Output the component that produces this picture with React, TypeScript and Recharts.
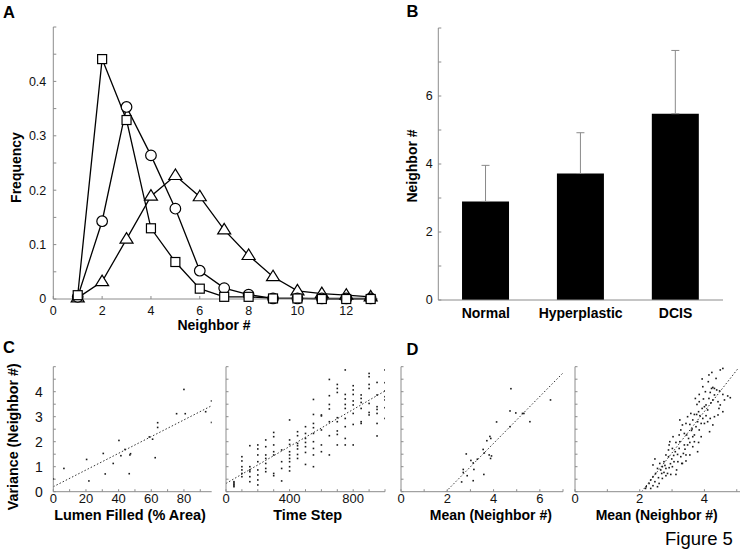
import React from 'react';
import {
  LineChart, Line, BarChart, Bar, ErrorBar, ScatterChart, Scatter,
  XAxis, YAxis, ReferenceLine,
} from 'recharts';

// ---------- Panel A data ----------
const A_NEIGHBORS = [1, 2, 3, 4, 5, 6, 7, 8, 9, 10, 11, 12, 13];
const A_SQUARE = [0.007, 0.441, 0.329, 0.13, 0.068, 0.019, 0.004, 0.004, 0.001, 0.001, 0, 0, 0];
const A_CIRCLE = [0.004, 0.143, 0.353, 0.264, 0.166, 0.052, 0.02, 0.008, 0.001, 0.001, 0.001, 0.001, 0.001];
const A_TRIANGLE = [0.002, 0.032, 0.11, 0.189, 0.227, 0.188, 0.127, 0.08, 0.041, 0.015, 0.01, 0.007, 0.004];
const A_X_TICKS = [0, 2, 4, 6, 8, 10, 12];
const A_Y_TICKS = [0, 0.05, 0.1, 0.15, 0.2, 0.25, 0.3, 0.35, 0.4, 0.45, 0.5];
const A_Y_LABELS = [0, 0.1, 0.2, 0.3, 0.4];

// ---------- Panel B data ----------
const B_CATEGORIES = ['Normal', 'Hyperplastic', 'DCIS'];
const B_MEANS = [2.9, 3.72, 5.48];
const B_ERRORS = [1.06, 1.2, 1.86];
const B_Y_TICKS = [0, 1, 2, 3, 4, 5, 6, 7, 8];
const B_Y_LABELS = [0, 2, 4, 6];

// ---------- Panel C data ----------
const C_LEFT_POINTS: [number, number][] = [
  [0, 0.51], [6.5, 0.93], [20.4, 1.29], [21.8, 0.43], [30.6, 1.53], [31.8, 0.71],
  [36.7, 1.13], [40.2, 2.05], [41.4, 1.44], [43.9, 1.69], [46.9, 1.47], [47.3, 1.52],
  [46.5, 0.72], [58.8, 2.19], [60.8, 2.1], [62.4, 1.36], [63.9, 2.76], [63.9, 2.57],
  [75.5, 3.12], [80, 4.09], [80.8, 3.12], [93.3, 3.2], [96.9, 3.63], [96.9, 2.77],
];
const C_LEFT_FIT: [number, number][] = [[0, 0.2], [97, 3.44]];

const C_RIGHT_POINTS: [number, number][] = [
  [50, 0.2], [50, 0.25], [50, 0.3], [50, 0.35], [50, 0.4],
  [100, 1.4], [100, 1.23], [100, 1.0], [100, 0.87], [100, 0.73], [100, 0.6],
  [150, 1.84], [150, 1.0], [150, 0.87], [150, 0.8], [150, 0.6], [150, 0.4],
  [200, 1.87], [200, 1.71], [200, 1.47], [200, 1.2], [200, 0.87], [200, 0.67], [200, 0.47], [200, 0.27],
  [250, 2.07], [250, 1.8], [250, 1.47], [250, 1.33], [250, 1.13], [250, 0.93], [250, 0.8],
  [300, 2.37], [300, 2.2], [300, 1.87], [300, 1.6], [300, 1.47], [300, 0.73], [300, 0.64],
  [350, 1.67], [350, 1.2], [350, 0.93], [350, 0.43],
  [400, 2.87], [400, 2.07], [400, 1.89], [400, 1.6], [400, 1.47], [400, 1.33], [400, 1.2], [400, 1.0], [400, 0.83],
  [450, 2.4], [450, 2.24], [450, 1.93], [450, 1.84], [450, 1.71], [450, 1.49], [450, 1.33],
  [500, 2.6], [500, 2.33], [500, 2.13], [500, 1.97], [500, 1.8], [500, 1.57], [500, 1.09],
  [550, 3.69], [550, 3.09], [550, 2.73], [550, 2.56], [550, 2.33], [550, 2.0], [550, 1.73], [550, 1.47], [550, 1.0],
  [600, 3.07], [600, 3.03], [600, 2.47], [600, 1.87], [600, 1.6],
  [650, 4.49], [650, 3.84], [650, 3.49], [650, 3.31], [650, 2.8], [650, 2.24], [650, 1.47],
  [700, 4.29], [700, 4.13], [700, 3.97], [700, 2.96], [700, 2.8], [700, 2.43], [700, 2.29], [700, 1.87],
  [750, 4.87], [750, 3.89], [750, 3.71], [750, 3.49], [750, 3.33], [750, 2.93], [750, 2.6], [750, 2.13], [750, 1.87],
  [800, 4.24], [800, 4.07], [800, 3.89], [800, 3.63], [800, 3.47], [800, 3.13], [800, 2.69], [800, 1.87],
  [850, 3.87], [850, 3.73], [850, 3.57], [850, 3.33], [850, 2.8], [850, 2.73],
  [900, 4.73], [900, 4.6], [900, 4.29], [900, 4.13], [900, 3.53], [900, 3.17], [900, 3.07],
  [950, 4.37], [950, 3.87], [950, 3.4], [950, 3.29], [950, 3.13], [950, 2.73], [950, 2.23],
  [1000, 4.87], [1000, 4.36], [1000, 4.03], [1000, 3.8], [1000, 3.67], [1000, 3.36], [1000, 2.93],
];
const C_RIGHT_FIT: [number, number][] = [[0, 0.33], [1000, 4.03]];

// ---------- Panel D data ----------
const D_LEFT_POINTS: [number, number][] = [
  [2.82, 1.51], [3.02, 1.25], [2.69, 0.89], [2.69, 0.77], [2.86, 0.64], [2.62, 0.39],
  [3.12, 1.15], [3.15, 0.89], [3.12, 0.44], [3.58, 0.69], [3.55, 1.69], [3.71, 2.04],
  [3.84, 2.21], [3.88, 2.13], [3.81, 1.47], [3.87, 1.33], [3.91, 1.43], [4.13, 2.79],
  [4.71, 3.23], [4.75, 4.12], [4.71, 2.6], [4.96, 3.15], [5.25, 3.13], [5.31, 3.13],
  [5.57, 2.8], [6.46, 3.67], [3.3, 1.3], [3.6, 1.55],
];
const D_LEFT_FIT: [number, number][] = [[1.94, 0], [7, 4.75]];

const D_RIGHT_POINTS: [number, number][] = [
  [4.57, 4.93], [4.49, 4.87], [4.23, 4.77], [3.93, 4.51], [4.12, 4.4], [4.26, 4.17], [4.31, 4.13],
  [4.22, 4.13], [4.38, 4.07], [4.47, 4.03], [4.03, 4.0], [4.18, 3.97], [4.31, 3.87], [4.57, 3.89],
  [4.72, 3.83], [4.8, 3.76], [3.84, 3.89], [3.72, 3.73], [3.97, 3.71], [4.14, 3.73], [4.26, 3.67],
  [4.42, 3.6], [4.49, 3.47], [4.05, 3.47], [3.93, 3.33], [3.82, 3.2], [3.58, 3.13], [3.69, 3.09],
  [3.76, 3.09], [3.86, 3.04], [3.95, 2.93], [4.05, 3.04], [4.18, 2.93], [4.31, 3.0], [4.42, 3.07],
  [4.57, 3.2], [3.64, 2.87], [3.79, 2.8], [3.9, 2.73], [4.0, 2.73], [4.1, 2.8], [4.26, 2.67],
  [3.24, 2.87], [3.43, 2.73], [3.55, 2.69], [3.62, 2.51], [3.74, 2.6], [3.84, 2.47], [4.16, 2.4],
  [3.27, 2.47], [3.38, 2.33], [3.45, 2.27], [3.51, 2.13], [3.64, 2.2], [3.69, 2.0], [3.82, 1.97],
  [3.22, 2.27], [3.03, 2.2], [3.12, 1.97], [3.24, 2.0], [3.38, 1.87], [3.48, 1.87], [3.64, 1.8],
  [3.79, 1.6], [2.91, 1.87], [3.01, 1.73], [3.1, 1.6], [3.17, 1.49], [3.27, 1.4], [3.35, 1.53],
  [3.43, 1.47], [3.55, 1.47], [2.81, 1.47], [2.89, 1.4], [2.99, 1.31], [3.06, 1.2], [3.18, 1.2],
  [3.3, 1.13], [3.43, 1.23], [2.75, 1.2], [2.62, 1.13], [2.7, 1.0], [2.81, 0.93], [2.91, 0.96],
  [3.01, 1.0], [3.14, 0.87], [2.55, 0.93], [2.65, 0.87], [2.75, 0.77], [2.86, 0.73], [2.96, 0.69],
  [2.49, 0.73], [2.41, 0.6], [2.58, 0.56], [2.7, 0.53], [2.81, 0.64], [2.34, 0.47], [2.47, 0.4],
  [2.6, 0.33], [2.29, 0.33], [2.2, 0.2], [2.41, 0.24], [2.55, 0.2], [2.18, 0.13], [2.34, 0.13],
  [2.93, 2.0], [2.47, 1.31], [2.41, 1.07], [2.89, 1.67], [3.32, 2.67], [3.48, 3.0], [3.77, 3.49],
  [3.95, 4.2], [4.36, 4.53], [4.14, 4.67], [3.84, 3.6], [4.1, 3.27], [4.45, 3.33], [4.62, 3.67],
  [3.32, 1.13], [3.12, 0.69], [2.68, 0.73], [3.22, 1.73], [3.55, 1.97], [3.69, 2.27], [3.9, 2.2],
  [2.95, 1.12], [3.05, 1.45], [2.78, 1.05], [3.4, 1.7], [3.6, 2.45], [4.0, 3.4], [4.2, 3.55],
];
const D_RIGHT_FIT: [number, number][] = [[2.06, 0], [5.04, 4.93]];

// ---------- Shared tick lists ----------
const CD_Y_TICKS = [0, 0.5, 1, 1.5, 2, 2.5, 3, 3.5, 4, 4.5, 5];
const C_LEFT_Y_LABELS = [0, 1, 2, 3, 4];
const C_LEFT_X_TICKS = [0, 10, 20, 30, 40, 50, 60, 70, 80, 90];
const C_LEFT_X_LABELS = [0, 20, 40, 60, 80];
const C_RIGHT_X_TICKS = [0, 100, 200, 300, 400, 500, 600, 700, 800, 900, 1000];
const C_RIGHT_X_LABELS = [0, 400, 800];
const D_LEFT_X_TICKS = [0, 1, 2, 3, 4, 5, 6, 7];
const D_LEFT_X_LABELS = [0, 2, 4, 6];
const D_RIGHT_X_TICKS = [0, 1, 2, 3, 4, 5];
const D_RIGHT_X_LABELS = [0, 2, 4];

const FONT = '"Liberation Sans", Arial, Helvetica, sans-serif';
const AXIS_GREY = '#8c8c8c';
const W = 741;
const H = 554;

const toPts = (arr: [number, number][]) => arr.map(([x, y]) => ({ x, y }));
const labelOnly = (list: number[]) => (v: number) =>
  list.some((l) => Math.abs(l - v) < 1e-9) ? String(v) : '';

const aRows = A_NEIGHBORS.map((n, i) => ({
  n, sq: A_SQUARE[i], ci: A_CIRCLE[i], tr: A_TRIANGLE[i],
}));
const bRows = B_CATEGORIES.map((name, i) => ({
  name, mean: B_MEANS[i], err: [0, B_ERRORS[i]],
}));

const SquareDot = (p: any) => (
  <rect key={`s${p.index}`} x={p.cx - 4.5} y={p.cy - 4.5} width={9} height={9}
    fill="#fff" stroke="#000" strokeWidth={1.2} />
);
const CircleDot = (p: any) => (
  <circle key={`c${p.index}`} cx={p.cx} cy={p.cy} r={5.3}
    fill="#fff" stroke="#000" strokeWidth={1.2} />
);
const TriangleDot = (p: any) => (
  <polygon key={`t${p.index}`}
    points={`${p.cx},${p.cy - 6.5} ${p.cx - 6.5},${p.cy + 4} ${p.cx + 6.5},${p.cy + 4}`}
    fill="#fff" stroke="#000" strokeWidth={1.2} />
);
const TinyDot = (p: any) => (
  <rect x={p.cx - 0.8} y={p.cy - 0.8} width={1.6} height={1.6} fill="#1a1a1a" />
);

const Abs: React.FC<{ children: React.ReactNode }> = ({ children }) => (
  <div style={{ position: 'absolute', left: 0, top: 0 }}>{children}</div>
);

const smallTick = { fontSize: 12.5, fill: '#111', fontFamily: FONT };
const cdTick = { fontSize: 13, fill: '#111', fontFamily: FONT };

type ScatterPanelProps = {
  points: [number, number][];
  fit: [number, number][];
  xDomain: [number, number];
  xTicks: number[];
  xLabels: number[];
  showYLabels: boolean;
  left: number;
  right: number;
  yWidth: number;
};

const ScatterPanel = ({ points, fit, xDomain, xTicks, xLabels, showYLabels, left, right, yWidth }: ScatterPanelProps) => (
  <Abs>
    <ScatterChart width={W} height={H}
      margin={{ top: 366.7, bottom: 37.3, left, right }}>
      <XAxis type="number" dataKey="x" domain={xDomain} ticks={xTicks} allowDataOverflow
        interval={0} tickFormatter={labelOnly(xLabels)} height={25}
        axisLine={{ stroke: AXIS_GREY }} tickLine={{ stroke: AXIS_GREY }}
        tickSize={-2.5} tickMargin={5} tick={cdTick} />
      <YAxis type="number" dataKey="y" domain={[0, 5]} ticks={CD_Y_TICKS} allowDataOverflow
        interval={0} width={yWidth}
        tickFormatter={showYLabels ? labelOnly(C_LEFT_Y_LABELS) : () => ''}
        axisLine={{ stroke: AXIS_GREY }} tickLine={{ stroke: AXIS_GREY }}
        tickSize={-2.5} tickMargin={13} tick={{ ...cdTick, fontSize: 14 }} />
      <ReferenceLine segment={toPts(fit)} stroke="#333" strokeWidth={1}
        strokeDasharray="1.5 2" ifOverflow="visible" />
      <Scatter data={toPts(points)} shape={TinyDot} isAnimationActive={false} />
    </ScatterChart>
  </Abs>
);

export default function App() {
  return (
    <div style={{
      position: 'absolute', left: 0, top: 0, width: W, height: H,
      background: '#fff', overflow: 'hidden', fontFamily: FONT,
    }}>
      {/* Panel A */}
      <Abs>
        <LineChart width={W} height={H} data={aRows}
          margin={{ top: 27, right: 363, bottom: 225, left: 13.3 }}>
          <XAxis type="number" dataKey="n" domain={[0, 13.3]} ticks={A_X_TICKS} interval={0}
            height={30} axisLine={{ stroke: AXIS_GREY }} tickLine={{ stroke: AXIS_GREY }}
            tickSize={-3} tickMargin={10} tick={smallTick} />
          <YAxis type="number" domain={[0, 0.5]} ticks={A_Y_TICKS} interval={0} width={40}
            tickFormatter={labelOnly(A_Y_LABELS)}
            axisLine={{ stroke: AXIS_GREY }} tickLine={{ stroke: AXIS_GREY }}
            tickSize={-3} tickMargin={10} tick={smallTick} />
          <Line type="linear" dataKey="tr" stroke="#000" strokeWidth={1.3}
            dot={TriangleDot} isAnimationActive={false} />
          <Line type="linear" dataKey="ci" stroke="#000" strokeWidth={1.3}
            dot={CircleDot} isAnimationActive={false} />
          <Line type="linear" dataKey="sq" stroke="#000" strokeWidth={1.3}
            dot={SquareDot} isAnimationActive={false} />
        </LineChart>
      </Abs>

      {/* Panel B */}
      <Abs>
        <BarChart width={W} height={H} data={bRows} barCategoryGap="25%"
          margin={{ top: 28, right: 18, bottom: 224, left: 398.3 }}>
          <XAxis dataKey="name" height={30} tickLine={false} tickSize={0} tickMargin={8}
            axisLine={{ stroke: AXIS_GREY }}
            tick={{ fontSize: 14, fontWeight: 700, fill: '#000', fontFamily: FONT }} />
          <YAxis type="number" domain={[0, 8]} ticks={B_Y_TICKS} interval={0} width={40}
            tickFormatter={labelOnly(B_Y_LABELS)}
            axisLine={{ stroke: AXIS_GREY }} tickLine={{ stroke: AXIS_GREY }}
            tickSize={-3} tickMargin={8.5} tick={smallTick} />
          <Bar dataKey="mean" fill="#000" isAnimationActive={false}>
            <ErrorBar dataKey="err" width={4} stroke="#8a8a8a" strokeWidth={1} direction="y" />
          </Bar>
        </BarChart>
      </Abs>

      {/* Panel C */}
      <ScatterPanel points={C_LEFT_POINTS} fit={C_LEFT_FIT} xDomain={[0, 97]}
        xTicks={C_LEFT_X_TICKS} xLabels={C_LEFT_X_LABELS} showYLabels
        left={23.3} right={529.3} yWidth={30} />
      <ScatterPanel points={C_RIGHT_POINTS} fit={C_RIGHT_FIT} xDomain={[0, 1000]}
        xTicks={C_RIGHT_X_TICKS} xLabels={C_RIGHT_X_LABELS} showYLabels={false}
        left={216} right={356} yWidth={10} />

      {/* Panel D */}
      <ScatterPanel points={D_LEFT_POINTS} fit={D_LEFT_FIT} xDomain={[0, 7]}
        xTicks={D_LEFT_X_TICKS} xLabels={D_LEFT_X_LABELS} showYLabels={false}
        left={391} right={178} yWidth={10} />
      <ScatterPanel points={D_RIGHT_POINTS} fit={D_RIGHT_FIT} xDomain={[0, 5.1]}
        xTicks={D_RIGHT_X_TICKS} xLabels={D_RIGHT_X_LABELS} showYLabels={false}
        left={565} right={1} yWidth={10} />

      {/* Text overlay */}
      <svg width={W} height={H} style={{ position: 'absolute', left: 0, top: 0, pointerEvents: 'none' }}
        fontFamily={FONT}>
        <g fontWeight={700} fill="#000">
          <text x={3} y={18.3} fontSize={16.5}>A</text>
          <text x={406.5} y={16.7} fontSize={16.5}>B</text>
          <text x={3} y={353} fontSize={16.5}>C</text>
          <text x={406.5} y={355} fontSize={16.5}>D</text>

          <text x={214} y={329.5} fontSize={14} textAnchor="middle">Neighbor #</text>
          <text transform="translate(20.5,167.5) rotate(-90)" fontSize={14} textAnchor="middle">Frequency</text>
          <text transform="translate(417,166) rotate(-90)" fontSize={14} textAnchor="middle">Neighbor #</text>
          <text transform="translate(17.5,436.7) rotate(-90)" fontSize={14.3} textAnchor="middle">Variance (Neighbor #)</text>

          <text x={130} y={520} fontSize={14.5} textAnchor="middle">Lumen Filled (% Area)</text>
          <text x={307.7} y={520} fontSize={14.5} textAnchor="middle">Time Step</text>
          <text x={490.8} y={520} fontSize={14} textAnchor="middle">Mean (Neighbor #)</text>
          <text x={656.7} y={520} fontSize={14} textAnchor="middle">Mean (Neighbor #)</text>
        </g>
        <text x={665} y={545} fontSize={18.5} fill="#000">Figure 5</text>
      </svg>
    </div>
  );
}
